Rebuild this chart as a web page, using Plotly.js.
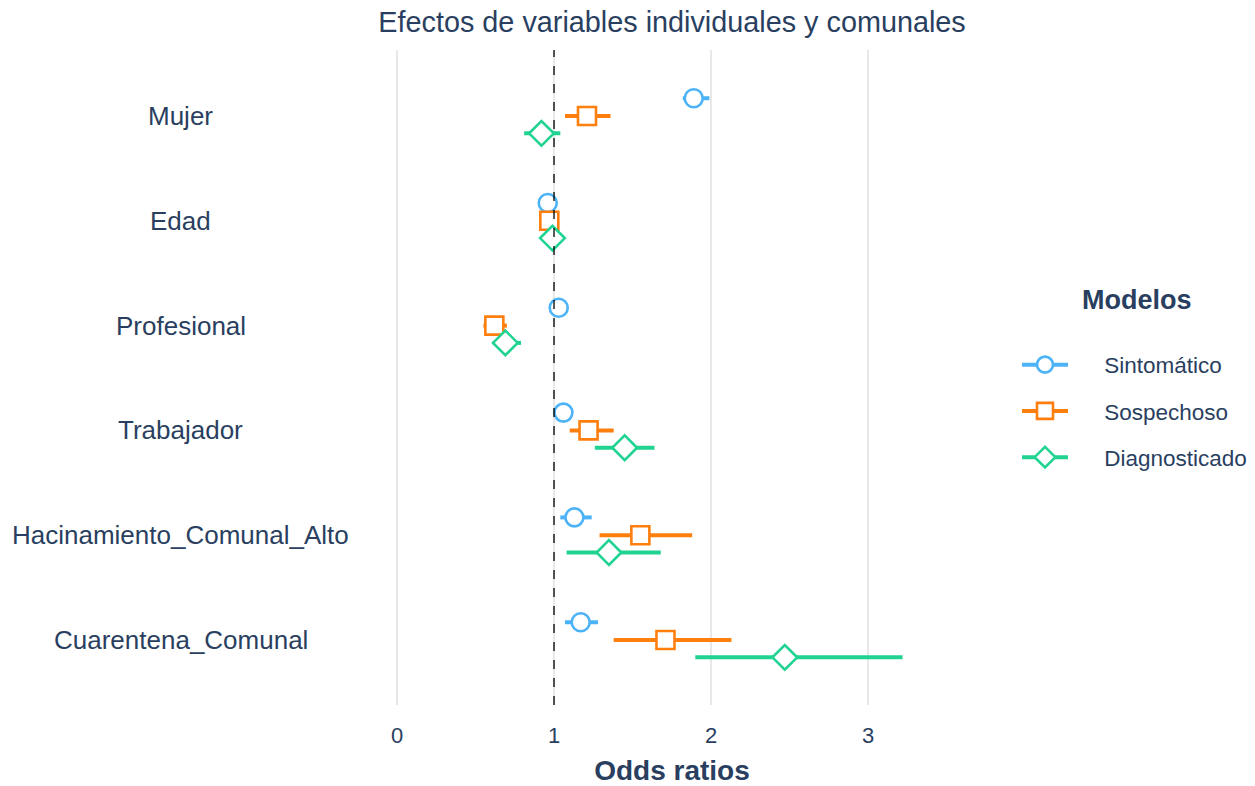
<!DOCTYPE html>
<html><head><meta charset="utf-8">
<script src="https://cdn.plot.ly/plotly-3.0.1.min.js"></script>
<style>html,body{margin:0;padding:0;background:#fff}#chart{width:1255px;height:786px}</style>
</head><body><div id="chart"></div>
<script>
const categories = ["Mujer","Edad","Profesional","Trabajador","Hacinamiento_Comunal_Alto","Cuarentena_Comunal"];
const models = ["Sintomático","Sospechoso","Diagnosticado"];
const sintEst = [1.89, 0.96, 1.03, 1.06, 1.13, 1.17];
const sintLo  = [1.82, 0.94, 1.01, 1.04, 1.04, 1.07];
const sintHi  = [1.99, 0.98, 1.05, 1.08, 1.24, 1.28];
const sospEst = [1.21, 0.97, 0.62, 1.22, 1.55, 1.71];
const sospLo  = [1.07, 0.95, 0.55, 1.10, 1.29, 1.38];
const sospHi  = [1.36, 0.99, 0.70, 1.38, 1.88, 2.13];
const diagEst = [0.92, 0.99, 0.69, 1.45, 1.35, 2.47];
const diagLo  = [0.81, 0.97, 0.61, 1.26, 1.08, 1.90];
const diagHi  = [1.04, 1.01, 0.79, 1.64, 1.68, 3.22];
const xTicks = [0, 1, 2, 3];

const colors = ["#4db3f7", "#ff7f0e", "#20d391"];
const symbols = ["circle", "square", "diamond"];
const sizes = [18, 18, 19];
const offsets = [-0.17, 0, 0.165];
const series = [[sintEst, sintLo, sintHi], [sospEst, sospLo, sospHi], [diagEst, diagLo, diagHi]];

const traces = [];
series.forEach((s, k) => {
  const [est, lo, hi] = s;
  traces.push({
    type: "scatter", mode: "markers", name: models[k], showlegend: false,
    x: est, y: categories.map((c, i) => i + offsets[k]),
    error_x: {type: "data", symmetric: false,
      array: est.map((v, i) => hi[i] - v), arrayminus: est.map((v, i) => v - lo[i]),
      color: colors[k], thickness: 4, width: 0},
    marker: {symbol: symbols[k], size: sizes[k], color: "#ffffff",
      line: {color: colors[k], width: 2.6}},
    hoverinfo: "x+name"
  });
});
const pad = "\u00a0\u00a0\u00a0\u00a0\u00a0";
series.forEach((s, k) => {
  traces.push({
    type: "scatter", mode: "lines+markers", name: pad + models[k], showlegend: true,
    legendgroup: "g" + k,
    x: [null], y: [null],
    line: {color: colors[k], width: 4},
    marker: {symbol: symbols[k], size: sizes[k], color: "#ffffff",
      line: {color: colors[k], width: 2.6}}
  });
});

const annotations = categories.map((c, i) => ({
  text: c, xref: "paper", yref: "y", x: -0.2997, y: i, xanchor: "center", yanchor: "middle",
  showarrow: false, font: {size: 26, color: "#2a3f5f"}
}));
annotations.push({
  text: "<b>Modelos</b>", xref: "paper", yref: "paper",
  x: (1137 - 365) / 614, y: (705 - 300) / 655, xanchor: "center", yanchor: "middle",
  showarrow: false, font: {size: 27, color: "#2a3f5f"}
});

const layout = {
  width: 1255, height: 786,
  margin: {l: 365, r: 276, t: 50, b: 81},
  paper_bgcolor: "#fff", plot_bgcolor: "#fff",
  font: {family: "Liberation Sans, Arial, sans-serif", color: "#2a3f5f"},
  title: {text: "Efectos de variables individuales y comunales", xref: "container", x: 0.5355, xanchor: "center",
    y: 0.972, yanchor: "middle", font: {size: 28.8, color: "#2a3f5f"}},
  xaxis: {range: [-0.204, 3.707], tickvals: xTicks, ticktext: xTicks.map(String), showgrid: true,
    gridcolor: "#e8e8e8", gridwidth: 2, zeroline: false, showline: false,
    ticks: "outside", ticklen: 11, tickcolor: "rgba(0,0,0,0)",
    tickfont: {size: 22, color: "#2a3f5f"},
    title: {text: "<b>Odds ratios</b>", font: {size: 28, color: "#2a3f5f"}, standoff: 17}},
  yaxis: {range: [5.62, -0.63], showgrid: false, zeroline: false, showticklabels: false, showline: false},
  shapes: [{type: "line", xref: "x", yref: "paper", x0: 1, x1: 1, y0: 0, y1: 1,
    line: {color: "#000", width: 1.3, dash: "dash"}}],
  annotations: annotations,
  legend: {xref: "container", yref: "container", x: 1017 / 1255, xanchor: "left",
    y: (786 - 411) / 786, yanchor: "middle",
    font: {size: 22.5, color: "#2a3f5f"}, tracegroupgap: 14, itemwidth: 46},
  showlegend: true
};
Plotly.newPlot("chart", traces, layout, {displayModeBar: false});
</script></body></html>
